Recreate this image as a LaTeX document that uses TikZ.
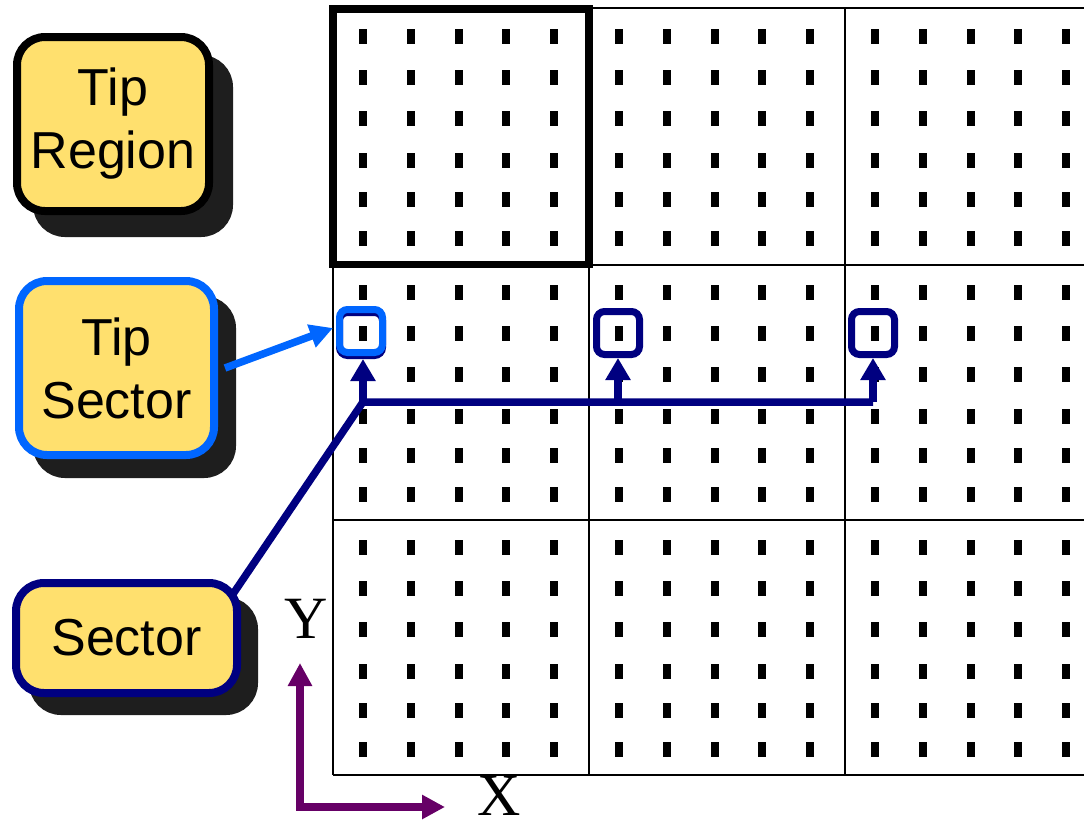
\documentclass[tikz,border=0pt]{standalone}
\usepackage{fontspec}
\setmainfont{Liberation Sans}
\newfontfamily\serifx{Liberation Serif}
\usetikzlibrary{arrows.meta,calc}
\pgfdeclarelayer{background}
\pgfsetlayers{background,main}
\definecolor{boxfill}{RGB}{255,224,110}
\definecolor{shadowc}{RGB}{30,30,30}
\definecolor{navyc}{RGB}{0,0,128}
\definecolor{bluec}{RGB}{0,102,255}
\definecolor{purplec}{RGB}{102,0,102}
\tikzset{
  labelbox/.style={draw, fill=boxfill, line width=8pt, rounded corners=28pt,
    inner sep=0pt, outer sep=0pt, align=center,
    font=\fontsize{52pt}{63pt}\selectfont},
  shadowbox/.style={fill=shadowc, draw=shadowc, line width=8pt, rounded corners=28pt},
  secbox/.style={draw, line width=7pt, rounded corners=8pt, minimum size=43pt, inner sep=0pt},
  gridline/.style={line width=1.8pt, black},
  navyline/.style={navyc, line width=7.5pt},
  navyarrow/.style={navyc, line width=7.5pt, -{Triangle[length=22pt,width=24pt]}},
  bluearrow/.style={bluec, line width=7.5pt, -{Triangle[length=23pt,width=23pt]}},
  axisarrow/.style={purplec, line width=8pt, {Triangle[length=23pt,width=23pt]}-{Triangle[length=23pt,width=23pt]}},
  axislabel/.style={font=\serifx\fontsize{60pt}{60pt}\selectfont, inner sep=0pt, anchor=base}
}
\begin{document}
\begin{tikzpicture}[x=1pt,y=-1pt]
\useasboundingbox (0,0) rectangle (1084,823);
\begin{scope}
\clip (0,0) rectangle (1084,823);
% grid
\foreach \gx in {333,589,845} \draw[gridline] (\gx,8) -- (\gx,775);
\foreach \gy in {8,265,520,775} \draw[gridline] (333,\gy) -- (1090,\gy);
% dots
\foreach \cx in {333,589,845}
 \foreach \cy in {8,264,519}
  \foreach \dx in {30,78,126,173,221}
   \foreach \dy in {28,69,110,152,191,230}
    \fill ({\cx+\dx-4},{\cy+\dy-7.5}) rectangle ++(8,15);
\end{scope}
% tip region outline
\draw[line width=7.5pt] (333,9) rectangle (589,264.5);
% label boxes
\node[labelbox, minimum width=192pt, minimum height=174pt] (treg) at (113,124) {Tip\\Region};
\node[labelbox, draw=bluec, minimum width=195pt, minimum height=174pt] (tsec) at (116.5,368) {Tip\\Sector};
\node[labelbox, draw=navyc, minimum width=221pt, minimum height=110pt] (sec) at (126.5,638) {Sector};
\begin{pgfonlayer}{background}
\draw[shadowbox] ([shift={(20,22)}]treg.north west) rectangle ([shift={(20,22)}]treg.south east);
\draw[shadowbox] ([shift={(18,19)}]tsec.north west) rectangle ([shift={(18,19)}]tsec.south east);
\draw[shadowbox] ([shift={(17,18)}]sec.north west) rectangle ([shift={(17,18)}]sec.south east);
\end{pgfonlayer}
% sector boxes
\node[secbox, draw=navyc] (tsbb) at (361,334) {};
\node[secbox, draw=bluec] (tsb) at (361,331) {};
\node[secbox, draw=navyc] (nb1) at (618,333) {};
\node[secbox, draw=navyc] (nb2) at (873,333) {};
% connectors
\coordinate (j) at (363,402);
\coordinate (sc) at (233,594);
\draw[navyline] (sc) -- (j) -- (nb2.south |- j);
\draw[navyarrow] (j) -- (j |- tsbb.south);
\draw[navyarrow] (nb1.south |- j) -- (nb1.south);
\draw[navyarrow] (nb2.south |- j) -- (nb2.south);
\coordinate (tsa) at (225,368);
\coordinate (tsend) at (333,328);
\draw[bluearrow] (tsa) -- (tsend);
% axes
\coordinate (ytip) at (300,663);
\coordinate (orig) at (300,807);
\coordinate (xtip) at (445,807);
\draw[axisarrow] (ytip) -- (orig) -- (xtip);
\node[axislabel] (ylab) at (306,638) {Y};
\node[axislabel] (xlab) at (499,815) {X};
\end{tikzpicture}
\end{document}
